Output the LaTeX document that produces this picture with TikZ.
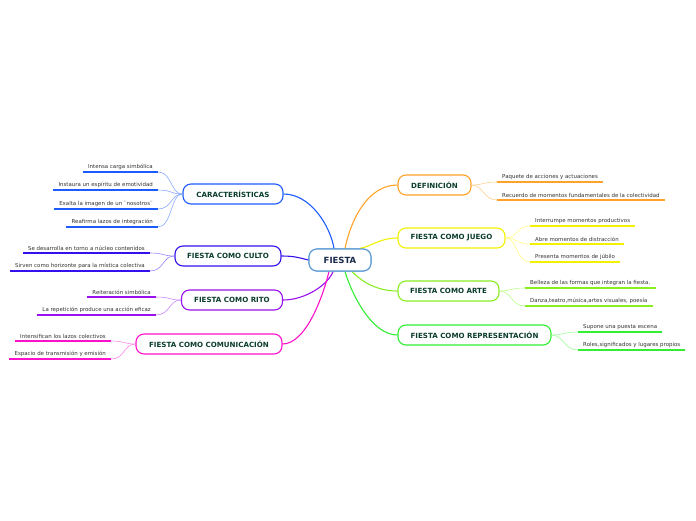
\documentclass[tikz,border=0pt]{standalone}
\usepackage{fontspec}
\setmainfont{DejaVu Sans}
\begin{document}
\begin{tikzpicture}[x=1pt,y=-1pt,
  mainbox/.style={draw=#1,line width=1.1pt,rounded corners=8pt,fill=white,minimum height=20pt,inner xsep=11pt,font=\fontsize{7.1}{8}\selectfont\bfseries,text=maintext},
  leaf/.style={inner xsep=5pt,inner ysep=1.8pt,font=\fontsize{5.45}{6}\selectfont,text=leaftext},
  uline/.style={line width=1.3pt,draw=#1},
  lconn/.style={line width=0.6pt,draw=#1},
  mconn/.style={line width=1.1pt,draw=#1},
  central/.style={draw=centc,line width=1.1pt,rounded corners=8pt,fill=white,minimum width=62pt,minimum height=22pt,font=\fontsize{8.5}{10}\selectfont\bfseries,text=centtext}]
\definecolor{maintext}{HTML}{0B3D2E}
\definecolor{leaftext}{HTML}{333333}
\definecolor{centtext}{HTML}{1A2A4A}
\definecolor{centc}{HTML}{5B9BD5}
\definecolor{carc}{HTML}{1E5BFF}\definecolor{carl}{HTML}{8AAAFF}
\definecolor{culc}{HTML}{3311EE}\definecolor{cull}{HTML}{9988FF}
\definecolor{ritc}{HTML}{9911EE}\definecolor{ritl}{HTML}{CC88FF}
\definecolor{comc}{HTML}{FF11CC}\definecolor{coml}{HTML}{FF88EE}
\definecolor{defc}{HTML}{FFA22A}\definecolor{defl}{HTML}{FFD090}
\definecolor{juec}{HTML}{F2F200}\definecolor{juel}{HTML}{FFFF88}
\definecolor{artc}{HTML}{88EE22}\definecolor{artl}{HTML}{BBFF88}
\definecolor{repc}{HTML}{33EE33}\definecolor{repl}{HTML}{99FF99}
\useasboundingbox (0,0) rectangle (696,520);
\fill[white] (0,0) rectangle (696,520);

% central (placed first for anchors)
\node[central] (fiesta) at (340,260) {FIESTA};

% main nodes
\node[mainbox=carc,minimum width=100pt] (car) at (233,194) {CARACTERÍSTICAS};
\node[mainbox=culc,minimum width=106pt] (cul) at (228,256) {FIESTA COMO CULTO};
\node[mainbox=ritc,minimum width=101pt] (rit) at (232,300) {FIESTA COMO RITO};
\node[mainbox=comc,minimum width=146pt] (com) at (209,344) {FIESTA COMO COMUNICACIÓN};
\node[mainbox=defc,minimum width=73pt] (def) at (434.5,185) {DEFINICIÓN};
\node[mainbox=juec,minimum width=107pt] (jue) at (451.5,238) {FIESTA COMO JUEGO};
\node[mainbox=artc,minimum width=101pt] (art) at (448.5,291) {FIESTA COMO ARTE};
\node[mainbox=repc,minimum width=153pt] (rep) at (474.5,335) {FIESTA COMO REPRESENTACIÓN};

% main connectors
\draw[mconn=carc] (car.east) .. controls (310,194) and (330,225) .. ([xshift=-6pt]fiesta.north);
\draw[mconn=culc] (cul.east) .. controls (295,256) and (300,258) .. (fiesta.west);
\draw[mconn=ritc] (rit.east) .. controls (305,300) and (328,285) .. ([xshift=-7pt]fiesta.south);
\draw[mconn=comc] (com.east) .. controls (305,344) and (322,300) .. ([xshift=-11pt]fiesta.south);
\draw[mconn=defc] (def.west) .. controls (370,185) and (352,215) .. ([xshift=5pt]fiesta.north);
\draw[mconn=juec] (jue.west) .. controls (380,238) and (372,246) .. ([xshift=20pt]fiesta.north);
\draw[mconn=artc] (art.west) .. controls (375,291) and (360,280) .. ([xshift=12pt]fiesta.south);
\draw[mconn=repc] (rep.west) .. controls (372,335) and (352,295) .. ([xshift=5pt]fiesta.south);

% central redrawn on top of connector ends
\node[central] at (fiesta.center) {FIESTA};

% CARACTERISTICAS leaves
\node[leaf,anchor=south east] (c1) at (158,172) {Intensa carga simbólica};
\node[leaf,anchor=south east] (c2) at (158,190) {Instaura un espíritu de emotividad};
\node[leaf,anchor=south east] (c3) at (158,209) {Exalta la imagen de un ¨nosotros¨};
\node[leaf,anchor=south east] (c4) at (158,227) {Reafirma lazos de integración};
\foreach \n in {c1,c2,c3,c4}{
  \draw[uline=carc] (\n.south west) -- (\n.south east);
  \draw[lconn=carl] (\n.south east) .. controls +(14,0) and +(-12,0) .. (car.west);
}
% CULTO leaves
\node[leaf,anchor=south east] (u1) at (150,253) {Se desarrolla en torno a núcleo contenidos};
\node[leaf,anchor=south east] (u2) at (150,271) {Sirven como horizonte para la mística colectiva};
\foreach \n in {u1,u2}{
  \draw[uline=culc] (\n.south west) -- (\n.south east);
  \draw[lconn=cull] (\n.south east) .. controls +(14,0) and +(-12,0) .. (cul.west);
}
% RITO leaves
\node[leaf,anchor=south east] (r1) at (156,297) {Reiteración simbólica};
\node[leaf,anchor=south east] (r2) at (156,315) {La repetición produce una acción eficaz};
\foreach \n in {r1,r2}{
  \draw[uline=ritc] (\n.south west) -- (\n.south east);
  \draw[lconn=ritl] (\n.south east) .. controls +(14,0) and +(-12,0) .. (rit.west);
}
% COMUNICACION leaves
\node[leaf,anchor=south east] (m1) at (111,341) {Intensifican los lazos colectivos};
\node[leaf,anchor=south east] (m2) at (111,359) {Espacio de transmisión y emisión};
\foreach \n in {m1,m2}{
  \draw[uline=comc] (\n.south west) -- (\n.south east);
  \draw[lconn=coml] (\n.south east) .. controls +(14,0) and +(-12,0) .. (com.west);
}
% DEFINICION leaves
\node[leaf,anchor=south west] (d1) at (497,182) {Paquete de acciones y actuaciones};
\node[leaf,anchor=south west] (d2) at (497,200) {Recuerdo de momentos fundamentales de la colectividad};
\foreach \n in {d1,d2}{
  \draw[uline=defc] (\n.south west) -- (\n.south east);
  \draw[lconn=defl] (\n.south west) .. controls +(-14,0) and +(12,0) .. (def.east);
}
% JUEGO leaves
\node[leaf,anchor=south west] (j1) at (530,226) {Interrumpe momentos productivos};
\node[leaf,anchor=south west] (j2) at (530,244) {Abre momentos de distracción};
\node[leaf,anchor=south west] (j3) at (530,262) {Presenta momentos de júbilo};
\foreach \n in {j1,j2,j3}{
  \draw[uline=juec] (\n.south west) -- (\n.south east);
  \draw[lconn=juel] (\n.south west) .. controls +(-14,0) and +(12,0) .. (jue.east);
}
% ARTE leaves
\node[leaf,anchor=south west] (a1) at (525,288) {Belleza de las formas que integran la fiesta.};
\node[leaf,anchor=south west] (a2) at (525,306) {Danza,teatro,música,artes visuales, poesía};
\foreach \n in {a1,a2}{
  \draw[uline=artc] (\n.south west) -- (\n.south east);
  \draw[lconn=artl] (\n.south west) .. controls +(-14,0) and +(12,0) .. (art.east);
}
% REPRESENTACION leaves
\node[leaf,anchor=south west] (p1) at (578,332) {Supone una puesta escena};
\node[leaf,anchor=south west] (p2) at (578,350) {Roles,significados y lugares propios};
\foreach \n in {p1,p2}{
  \draw[uline=repc] (\n.south west) -- (\n.south east);
  \draw[lconn=repl] (\n.south west) .. controls +(-14,0) and +(12,0) .. (rep.east);
}
\end{tikzpicture}
\end{document}
